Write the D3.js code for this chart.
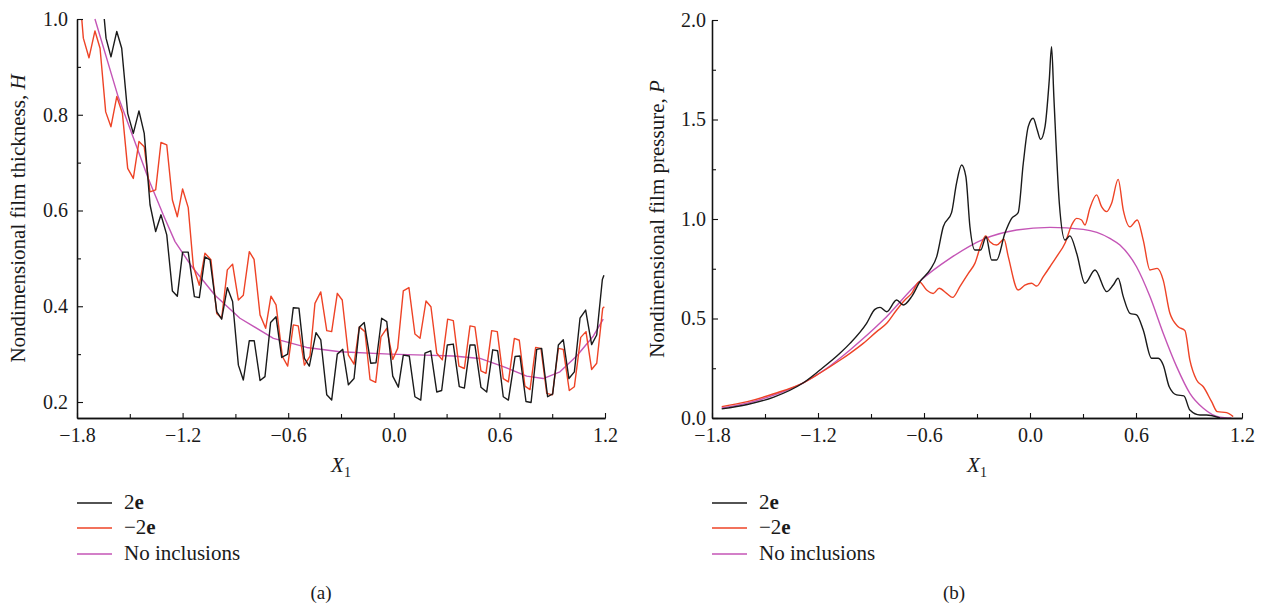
<!DOCTYPE html>
<html>
<head>
<meta charset="utf-8">
<script src="https://cdn.jsdelivr.net/npm/d3@7"></script>
<style>
  html, body { margin: 0; padding: 0; background: #fff; }
  svg { display: block; font-family: "Liberation Serif", "Times New Roman", serif; }
  .tick text { font-family: "Liberation Serif", "Times New Roman", serif; }
</style>
</head>
<body>
<svg id="chart" width="1266" height="607"></svg>
<script>
// ---- Panel (a): film thickness H versus X1 ----
const thickX_pos = [-1.645,-1.635,-1.607,-1.574,-1.546,-1.512,-1.480,-1.448,-1.418,-1.385,-1.353,-1.323,-1.290,-1.258,-1.230,-1.200,-1.168,-1.133,-1.105,-1.073,-1.044,-1.006,-0.978,-0.946,-0.916,-0.883,-0.855,-0.821,-0.793,-0.760,-0.732,-0.700,-0.669,-0.637,-0.603,-0.571,-0.539,-0.508,-0.480,-0.442,-0.415,-0.381,-0.353,-0.321,-0.290,-0.258,-0.226,-0.196,-0.168,-0.131,-0.101,-0.069,-0.040,-0.006,0.026,0.054,0.088,0.120,0.153,0.177,0.210,0.244,0.272,0.304,0.338,0.372,0.401,0.433,0.461,0.495,0.528,0.562,0.590,0.622,0.651,0.689,0.717,0.751,0.780,0.812,0.840,0.874,0.903,0.935,0.963,0.995,1.026,1.058,1.090,1.124,1.153,1.185,1.194];
const thickH_pos = [1.0,0.960,0.921,0.974,0.939,0.803,0.761,0.808,0.761,0.612,0.556,0.591,0.549,0.432,0.421,0.513,0.513,0.420,0.418,0.503,0.497,0.389,0.373,0.439,0.410,0.277,0.246,0.328,0.328,0.245,0.253,0.366,0.378,0.293,0.300,0.397,0.396,0.291,0.275,0.345,0.330,0.215,0.204,0.300,0.310,0.236,0.249,0.356,0.366,0.281,0.282,0.375,0.368,0.254,0.231,0.298,0.296,0.211,0.204,0.302,0.307,0.221,0.224,0.319,0.321,0.232,0.229,0.319,0.319,0.231,0.221,0.309,0.307,0.211,0.204,0.295,0.296,0.201,0.199,0.310,0.312,0.211,0.217,0.319,0.330,0.249,0.263,0.375,0.392,0.320,0.340,0.456,0.465];

const thickX_neg = [-1.773,-1.764,-1.732,-1.698,-1.669,-1.637,-1.607,-1.574,-1.542,-1.512,-1.480,-1.448,-1.418,-1.385,-1.353,-1.323,-1.290,-1.258,-1.230,-1.200,-1.168,-1.139,-1.105,-1.073,-1.039,-1.006,-0.978,-0.946,-0.916,-0.883,-0.855,-0.821,-0.794,-0.760,-0.728,-0.698,-0.669,-0.633,-0.603,-0.571,-0.543,-0.508,-0.476,-0.448,-0.415,-0.381,-0.353,-0.321,-0.293,-0.258,-0.226,-0.196,-0.164,-0.135,-0.103,-0.073,-0.040,-0.006,0.022,0.054,0.086,0.120,0.149,0.183,0.211,0.244,0.276,0.306,0.338,0.370,0.401,0.433,0.461,0.495,0.524,0.556,0.588,0.622,0.651,0.685,0.713,0.745,0.774,0.806,0.836,0.869,0.901,0.935,0.963,0.997,1.026,1.062,1.092,1.124,1.153,1.187,1.196];
const thickH_neg = [1.0,0.960,0.919,0.975,0.939,0.806,0.775,0.838,0.803,0.688,0.667,0.744,0.733,0.639,0.643,0.742,0.737,0.622,0.587,0.645,0.606,0.483,0.444,0.511,0.497,0.385,0.375,0.476,0.488,0.413,0.423,0.514,0.498,0.382,0.354,0.421,0.403,0.295,0.275,0.361,0.359,0.277,0.296,0.406,0.430,0.349,0.347,0.427,0.413,0.298,0.279,0.357,0.347,0.247,0.241,0.336,0.354,0.289,0.312,0.432,0.439,0.342,0.333,0.411,0.399,0.302,0.288,0.373,0.370,0.275,0.270,0.359,0.357,0.265,0.260,0.349,0.347,0.249,0.242,0.333,0.329,0.233,0.226,0.314,0.312,0.218,0.215,0.312,0.310,0.224,0.232,0.335,0.347,0.268,0.281,0.396,0.399];

const thickX_none = [-1.698,-1.569,-1.461,-1.395,-1.310,-1.243,-1.148,-1.016,-0.874,-0.684,-0.495,-0.306,-0.022,0.177,0.338,0.490,0.622,0.755,0.849,0.944,1.039,1.134,1.190];
const thickH_none = [1.0,0.841,0.733,0.667,0.591,0.535,0.483,0.423,0.375,0.333,0.314,0.305,0.300,0.298,0.296,0.291,0.274,0.254,0.249,0.263,0.296,0.338,0.373];

// ---- Panel (b): film pressure P versus X1 ----
const presX_pos = [-1.745,-1.6,-1.45,-1.283,-1.189,-1.076,-1.019,-0.925,-0.878,-0.849,-0.811,-0.755,-0.717,-0.670,-0.623,-0.566,-0.528,-0.491,-0.444,-0.416,-0.387,-0.363,-0.340,-0.312,-0.279,-0.249,-0.217,-0.189,-0.142,-0.104,-0.067,-0.038,-0.010,0.018,0.041,0.060,0.085,0.109,0.122,0.135,0.166,0.198,0.226,0.264,0.311,0.368,0.434,0.471,0.499,0.528,0.566,0.603,0.641,0.688,0.726,0.754,0.788,0.830,0.871,0.905,0.962,0.999,1.075];
const presP_pos = [0.046,0.068,0.105,0.177,0.241,0.325,0.375,0.476,0.546,0.556,0.534,0.593,0.568,0.610,0.685,0.744,0.811,0.961,1.032,1.179,1.271,1.213,0.961,0.844,0.844,0.911,0.794,0.794,0.928,1.003,1.032,1.280,1.464,1.506,1.447,1.400,1.464,1.698,1.866,1.615,1.079,0.894,0.915,0.828,0.677,0.744,0.635,0.668,0.702,0.610,0.526,0.518,0.442,0.300,0.300,0.266,0.157,0.116,0.111,0.040,0.015,0.015,0.0];

const presX_neg = [-1.745,-1.6,-1.45,-1.283,-1.19,-1.076,-1.019,-0.944,-0.868,-0.811,-0.755,-0.708,-0.670,-0.627,-0.585,-0.548,-0.514,-0.472,-0.438,-0.397,-0.349,-0.312,-0.274,-0.251,-0.227,-0.189,-0.147,-0.123,-0.067,-0.029,0.009,0.038,0.075,0.113,0.151,0.198,0.236,0.264,0.292,0.311,0.339,0.377,0.405,0.434,0.462,0.499,0.528,0.566,0.607,0.641,0.679,0.720,0.754,0.792,0.839,0.877,0.905,0.943,0.981,1.028,1.060,1.113,1.150];
const presP_neg = [0.057,0.082,0.122,0.177,0.225,0.290,0.325,0.375,0.434,0.476,0.543,0.593,0.626,0.685,0.643,0.626,0.652,0.626,0.606,0.660,0.727,0.777,0.878,0.915,0.886,0.869,0.898,0.811,0.643,0.668,0.677,0.663,0.710,0.760,0.811,0.878,0.970,1.003,0.995,0.970,1.054,1.121,1.062,1.037,1.079,1.199,1.045,0.961,0.995,0.894,0.744,0.752,0.693,0.526,0.459,0.439,0.291,0.191,0.157,0.082,0.032,0.027,0.007];

const presX_none = [-1.745,-1.6,-1.45,-1.283,-1.15,-1.019,-0.831,-0.627,-0.453,-0.265,-0.076,0.113,0.301,0.452,0.509,0.603,0.679,0.754,0.830,0.905,0.981,1.075,1.14];
const presP_none = [0.050,0.075,0.115,0.177,0.250,0.342,0.492,0.685,0.802,0.898,0.945,0.958,0.948,0.903,0.869,0.760,0.610,0.426,0.258,0.124,0.049,0.004,0.0];

// ---- Axis ticks ----
const xMajorTicks = [-1.8,-1.2,-0.6,0.0,0.6,1.2];
const xMinorTicks = [-1.5,-0.9,-0.3,0.3,0.9];
const hMajorTicks = [0.2,0.4,0.6,0.8,1.0];
const hMinorTicks = [0.3,0.5,0.7,0.9];
const pMajorTicks = [0.0,0.5,1.0,1.5,2.0];
const pMinorTicks = [0.25,0.75,1.25,1.75];

// ---- Series names and colours ----
const seriesNames = ["2e", "\u22122e", "No inclusions"];
const seriesColors = ["#1a1a1a", "#ee4326", "#c455b6"];

const svg = d3.select("#chart");
const fmt = d3.format(".1f");

function drawPanel(opt) {
  const x = d3.scaleLinear().domain([-1.8, 1.2]).range([opt.left, opt.right]);
  const y = d3.scaleLinear().domain(opt.yDomain).range([opt.bottom, opt.top]);
  const g = svg.append("g");

  const clipId = "clip-" + opt.id;
  svg.append("clipPath").attr("id", clipId)
    .append("rect")
    .attr("x", opt.left).attr("y", opt.top - 1)
    .attr("width", opt.right - opt.left + 4).attr("height", opt.bottom - opt.top + 1);

  const line = d3.line()
    .x(d => x(d[0])).y(d => y(d[1]))
    .curve(opt.curve);

  const plot = g.append("g").attr("clip-path", `url(#${clipId})`);
  // "no inclusions" first so the oscillating curves sit on top of it
  [2, 1, 0].forEach(i => {
    plot.append("path")
      .datum(d3.zip(opt.xs[i], opt.ys[i]))
      .attr("fill", "none")
      .attr("stroke", seriesColors[i])
      .attr("stroke-width", 1.4)
      .attr("stroke-linejoin", "round")
      .attr("d", line);
  });

  // x axis: labelled major ticks plus unlabelled minor ticks, all pointing inward
  const gx = g.append("g").attr("transform", `translate(0,${opt.bottom})`);
  gx.call(d3.axisBottom(x).tickValues(xMajorTicks).tickFormat(fmt)
      .tickSizeInner(-5).tickSizeOuter(0).tickPadding(10));
  gx.append("g").call(d3.axisBottom(x).tickValues(xMinorTicks).tickFormat("")
      .tickSizeInner(-4).tickSizeOuter(0));
  // y axis
  const gy = g.append("g").attr("transform", `translate(${opt.left},0)`);
  gy.call(d3.axisLeft(y).tickValues(opt.yMajor).tickFormat(fmt)
      .tickSizeInner(-6).tickSizeOuter(0).tickPadding(opt.yPad));
  gy.append("g").call(d3.axisLeft(y).tickValues(opt.yMinor).tickFormat("")
      .tickSizeInner(-4).tickSizeOuter(0));

  g.selectAll(".domain").attr("stroke", "#111").attr("stroke-width", 1.3);
  g.selectAll(".tick line").attr("stroke", "#111").attr("stroke-width", 1.1);
  g.selectAll(".tick text").attr("font-size", 20).attr("fill", "#1a1a1a");

  // y axis title
  const yt = g.append("text")
    .attr("transform", `translate(${opt.yTitleX},${(opt.top + opt.bottom) / 2}) rotate(-90)`)
    .attr("text-anchor", "middle")
    .attr("font-size", 21).attr("fill", "#1a1a1a");
  yt.append("tspan").text(opt.yTitle + ", ");
  yt.append("tspan").attr("font-style", "italic").text(opt.yVar);

  // x axis title X1
  const xt = g.append("text")
    .attr("x", (opt.left + opt.right) / 2).attr("y", 472)
    .attr("text-anchor", "middle")
    .attr("font-size", 21).attr("fill", "#1a1a1a");
  xt.append("tspan").attr("font-style", "italic").text("X");
  xt.append("tspan").attr("font-size", 14).attr("dy", 5).text("1");

  // legend
  const lg = g.append("g");
  const rowY = [503, 528, 554];
  seriesNames.forEach((name, i) => {
    lg.append("line")
      .attr("x1", opt.left).attr("x2", opt.left + 35)
      .attr("y1", rowY[i]).attr("y2", rowY[i])
      .attr("stroke", seriesColors[i]).attr("stroke-width", 1.4);
    const t = lg.append("text")
      .attr("x", opt.left + 47).attr("y", rowY[i] + 6)
      .attr("font-size", 21).attr("fill", "#1a1a1a");
    if (i < 2) {
      t.append("tspan").text(name.slice(0, -1));
      t.append("tspan").attr("font-weight", "bold").text("e");
    } else {
      t.text(name);
    }
  });

  // panel caption
  g.append("text")
    .attr("x", opt.captionX).attr("y", 599)
    .attr("text-anchor", "middle")
    .attr("font-size", 19).attr("fill", "#1a1a1a")
    .text(opt.caption);
}

drawPanel({
  id: "a",
  left: 77, right: 605, top: 19, bottom: 418,
  yDomain: [0.1666, 1.0],
  yMajor: hMajorTicks, yMinor: hMinorTicks, yPad: 9,
  xs: [thickX_pos, thickX_neg, thickX_none],
  ys: [thickH_pos, thickH_neg, thickH_none],
  curve: d3.curveLinear,
  yTitle: "Nondimensional film thickness", yVar: "H", yTitleX: 25,
  caption: "(a)", captionX: 321
});

drawPanel({
  id: "b",
  left: 712, right: 1242, top: 20, bottom: 418,
  yDomain: [0, 2.0],
  yMajor: pMajorTicks, yMinor: pMinorTicks, yPad: 6,
  xs: [presX_pos, presX_neg, presX_none],
  ys: [presP_pos, presP_neg, presP_none],
  curve: d3.curveMonotoneX,
  yTitle: "Nondimensional film pressure", yVar: "P", yTitleX: 664,
  caption: "(b)", captionX: 954
});
</script>
</body>
</html>
